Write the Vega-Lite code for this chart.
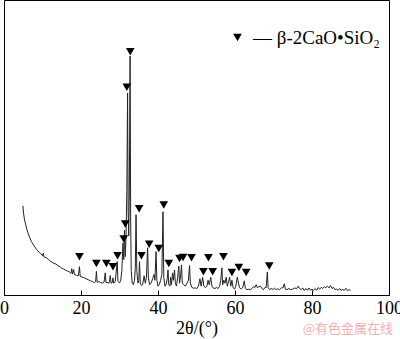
{
  "$schema": "https://vega.github.io/schema/vega-lite/v6.json",
  "autosize": {"type": "none"},
  "width": 385,
  "height": 295,
  "padding": {"left": 4, "top": 0, "right": 11, "bottom": 44},
  "background": "white",
  "config": {
    "view": {"stroke": "black", "strokeWidth": 1},
    "font": "Liberation Serif"
  },
  "title": {
    "text": "@有色金属在线",
    "orient": "bottom",
    "anchor": "end",
    "frame": "group",
    "color": "#f3b0b0",
    "font": "Noto Sans CJK SC",
    "fontSize": 13,
    "fontWeight": "normal",
    "offset": -14,
    "dx": 4
  },
  "datasets": {
    "trace": [
      {"t": 4.9, "i": 30.2}, {"t": 5.1, "i": 27.5}, {"t": 5.3, "i": 25.8}, {"t": 5.6, "i": 24}, {"t": 5.9, "i": 22.4},
      {"t": 6.3, "i": 20.8}, {"t": 6.7, "i": 19.4}, {"t": 7.1, "i": 18.2}, {"t": 7.5, "i": 17.3}, {"t": 8.0, "i": 16.3},
      {"t": 8.5, "i": 15.4}, {"t": 9.0, "i": 14.6}, {"t": 9.5, "i": 14.1}, {"t": 10.0, "i": 13.3}, {"t": 10.2, "i": 14.2},
      {"t": 10.4, "i": 12.9}, {"t": 11.0, "i": 12.6}, {"t": 11.5, "i": 12.1}, {"t": 12.0, "i": 11.5}, {"t": 12.5, "i": 11.1},
      {"t": 13.0, "i": 10.7}, {"t": 13.5, "i": 10.5}, {"t": 14.0, "i": 9.9}, {"t": 14.5, "i": 9.6}, {"t": 15.0, "i": 9.1},
      {"t": 15.5, "i": 8.8}, {"t": 16.0, "i": 8.4}, {"t": 16.5, "i": 8.1}, {"t": 17.0, "i": 7.8}, {"t": 17.4, "i": 7.3},
      {"t": 17.6, "i": 8.9}, {"t": 17.8, "i": 7.1}, {"t": 18.1, "i": 8.6}, {"t": 18.3, "i": 6.9}, {"t": 18.8, "i": 6.7},
      {"t": 19.3, "i": 6.5}, {"t": 19.6, "i": 9.6}, {"t": 19.8, "i": 6.3}, {"t": 20.5, "i": 6.0}, {"t": 21.0, "i": 5.7},
      {"t": 21.5, "i": 5.4}, {"t": 22.0, "i": 5.1}, {"t": 22.5, "i": 4.8}, {"t": 23.0, "i": 4.5}, {"t": 23.5, "i": 4.2},
      {"t": 23.8, "i": 4.5}, {"t": 24.0, "i": 8.0}, {"t": 24.2, "i": 4.3}, {"t": 24.6, "i": 4.6}, {"t": 25.0, "i": 4.3},
      {"t": 25.5, "i": 4.0}, {"t": 26.0, "i": 4.4}, {"t": 26.3, "i": 7.5}, {"t": 26.5, "i": 4.2}, {"t": 26.8, "i": 4.3},
      {"t": 27.2, "i": 4.0}, {"t": 27.4, "i": 4.5}, {"t": 27.6, "i": 6.6}, {"t": 27.8, "i": 4.0}, {"t": 28.1, "i": 4.2},
      {"t": 28.3, "i": 5.8}, {"t": 28.5, "i": 4.0}, {"t": 28.9, "i": 4.5}, {"t": 29.4, "i": 11.3}, {"t": 29.6, "i": 4.6},
      {"t": 30.0, "i": 4.1}, {"t": 30.3, "i": 4.8}, {"t": 30.6, "i": 8.0}, {"t": 30.9, "i": 17.6}, {"t": 31.1, "i": 12.0},
      {"t": 31.3, "i": 22.0}, {"t": 31.5, "i": 13.0}, {"t": 31.7, "i": 20.0}, {"t": 31.9, "i": 35.0}, {"t": 32.1, "i": 68.5},
      {"t": 32.25, "i": 28.0}, {"t": 32.4, "i": 20.0}, {"t": 32.55, "i": 35.0}, {"t": 32.75, "i": 81.0}, {"t": 32.9, "i": 25.0},
      {"t": 33.05, "i": 8.0}, {"t": 33.3, "i": 4.0}, {"t": 33.6, "i": 3.5}, {"t": 33.9, "i": 5.0}, {"t": 34.1, "i": 9.0},
      {"t": 34.3, "i": 27.2}, {"t": 34.5, "i": 8.0}, {"t": 34.8, "i": 4.0}, {"t": 35.0, "i": 5.0}, {"t": 35.2, "i": 11.3},
      {"t": 35.4, "i": 4.0}, {"t": 35.7, "i": 3.2}, {"t": 36.0, "i": 3.5}, {"t": 36.4, "i": 6.5}, {"t": 36.7, "i": 4.0},
      {"t": 37.0, "i": 6.0}, {"t": 37.3, "i": 16.0}, {"t": 37.5, "i": 6.0}, {"t": 37.8, "i": 3.5}, {"t": 38.2, "i": 4.0},
      {"t": 38.6, "i": 5.5}, {"t": 39.0, "i": 7.0}, {"t": 39.2, "i": 5.0}, {"t": 39.5, "i": 14.7}, {"t": 39.7, "i": 5.0},
      {"t": 40.0, "i": 3.0}, {"t": 40.3, "i": 3.5}, {"t": 40.7, "i": 5.0}, {"t": 41.0, "i": 7.0}, {"t": 41.3, "i": 28.2},
      {"t": 41.5, "i": 6.0}, {"t": 41.8, "i": 3.0}, {"t": 42.1, "i": 3.5}, {"t": 42.4, "i": 5.5}, {"t": 42.6, "i": 8.5},
      {"t": 42.8, "i": 3.5}, {"t": 43.1, "i": 3.0}, {"t": 43.3, "i": 6.0}, {"t": 43.5, "i": 3.5}, {"t": 43.8, "i": 7.5},
      {"t": 44.0, "i": 5.0}, {"t": 44.3, "i": 8.5}, {"t": 44.5, "i": 4.0}, {"t": 44.8, "i": 3.0}, {"t": 45.1, "i": 6.0},
      {"t": 45.4, "i": 9.8}, {"t": 45.6, "i": 4.0}, {"t": 45.9, "i": 7.0}, {"t": 46.1, "i": 10.2}, {"t": 46.3, "i": 4.0},
      {"t": 46.7, "i": 3.5}, {"t": 47.1, "i": 3.0}, {"t": 47.5, "i": 4.0}, {"t": 47.9, "i": 5.0}, {"t": 48.2, "i": 10.0},
      {"t": 48.4, "i": 4.0}, {"t": 48.8, "i": 2.6}, {"t": 49.2, "i": 2.3}, {"t": 49.7, "i": 2.4}, {"t": 50.1, "i": 2.2},
      {"t": 50.5, "i": 3.0}, {"t": 50.9, "i": 5.5}, {"t": 51.2, "i": 3.0}, {"t": 51.6, "i": 6.0}, {"t": 51.9, "i": 3.0},
      {"t": 52.3, "i": 2.5}, {"t": 52.7, "i": 3.0}, {"t": 53.0, "i": 5.0}, {"t": 53.3, "i": 3.5}, {"t": 53.7, "i": 6.0},
      {"t": 54.0, "i": 3.0}, {"t": 54.4, "i": 2.3}, {"t": 54.8, "i": 2.2}, {"t": 55.2, "i": 2.6}, {"t": 55.6, "i": 2.2},
      {"t": 56.0, "i": 3.0}, {"t": 56.3, "i": 5.0}, {"t": 56.6, "i": 9.2}, {"t": 56.8, "i": 3.5}, {"t": 57.1, "i": 5.0},
      {"t": 57.4, "i": 4.0}, {"t": 57.7, "i": 6.0}, {"t": 58.0, "i": 3.0}, {"t": 58.3, "i": 4.5}, {"t": 58.6, "i": 6.0},
      {"t": 58.9, "i": 3.0}, {"t": 59.2, "i": 5.0}, {"t": 59.5, "i": 2.5}, {"t": 59.9, "i": 2.0}, {"t": 60.2, "i": 3.0},
      {"t": 60.6, "i": 6.0}, {"t": 60.9, "i": 4.0}, {"t": 61.2, "i": 2.5}, {"t": 61.6, "i": 2.0}, {"t": 62.0, "i": 2.5},
      {"t": 62.4, "i": 4.8}, {"t": 62.7, "i": 2.2}, {"t": 63.1, "i": 1.8}, {"t": 63.6, "i": 2.0}, {"t": 64.0, "i": 1.8},
      {"t": 64.4, "i": 2.2}, {"t": 64.8, "i": 2.8}, {"t": 65.2, "i": 2.6}, {"t": 65.5, "i": 3.5}, {"t": 65.8, "i": 2.5},
      {"t": 66.2, "i": 2.8}, {"t": 66.6, "i": 3.0}, {"t": 67.0, "i": 2.2}, {"t": 67.4, "i": 1.8}, {"t": 67.8, "i": 2.6},
      {"t": 68.1, "i": 2.5}, {"t": 68.4, "i": 7.8}, {"t": 68.6, "i": 2.5}, {"t": 69.0, "i": 1.8}, {"t": 69.4, "i": 2.2},
      {"t": 69.9, "i": 1.9}, {"t": 70.3, "i": 2.3}, {"t": 70.7, "i": 1.8}, {"t": 71.1, "i": 2.1}, {"t": 71.6, "i": 1.8},
      {"t": 72.1, "i": 2.4}, {"t": 72.5, "i": 2.5}, {"t": 72.8, "i": 3.8}, {"t": 73.1, "i": 2.0}, {"t": 73.5, "i": 1.8},
      {"t": 74.0, "i": 2.2}, {"t": 74.5, "i": 1.8}, {"t": 75.0, "i": 2.0}, {"t": 75.5, "i": 2.4}, {"t": 76.0, "i": 2.1},
      {"t": 76.4, "i": 3.0}, {"t": 76.8, "i": 2.2}, {"t": 77.2, "i": 1.8}, {"t": 77.6, "i": 2.4}, {"t": 78.0, "i": 1.5},
      {"t": 78.4, "i": 2.2}, {"t": 78.8, "i": 1.6}, {"t": 79.2, "i": 2.4}, {"t": 79.6, "i": 1.6}, {"t": 80.0, "i": 2.0},
      {"t": 80.4, "i": 1.5}, {"t": 80.8, "i": 2.2}, {"t": 81.2, "i": 1.6}, {"t": 81.6, "i": 2.5}, {"t": 82.0, "i": 2.0},
      {"t": 82.4, "i": 2.6}, {"t": 82.8, "i": 2.2}, {"t": 83.2, "i": 2.8}, {"t": 83.6, "i": 2.5}, {"t": 84.0, "i": 3.0},
      {"t": 84.4, "i": 2.4}, {"t": 84.8, "i": 3.2}, {"t": 85.2, "i": 2.2}, {"t": 85.6, "i": 2.6}, {"t": 86.0, "i": 1.8},
      {"t": 86.4, "i": 2.0}, {"t": 86.8, "i": 1.6}, {"t": 87.2, "i": 2.2}, {"t": 87.6, "i": 1.5}, {"t": 88.0, "i": 1.9},
      {"t": 88.4, "i": 1.6}, {"t": 88.8, "i": 2.3}, {"t": 89.2, "i": 1.5}, {"t": 89.6, "i": 1.8}, {"t": 90.0, "i": 1.6}
    ],
    "markers": [
      {"t": 19.6, "i": 13.0, "phase": "b"}, {"t": 24.0, "i": 10.7, "phase": "b"}, {"t": 26.6, "i": 10.7, "phase": "b"},
      {"t": 28.3, "i": 9.6, "phase": "b"}, {"t": 29.5, "i": 13.3, "phase": "b"}, {"t": 31.1, "i": 19.0, "phase": "b"},
      {"t": 31.5, "i": 24.1, "phase": "b"}, {"t": 31.9, "i": 70.4, "phase": "b"}, {"t": 32.8, "i": 82.5, "phase": "b"},
      {"t": 35.1, "i": 29.2, "phase": "b"}, {"t": 35.7, "i": 13.3, "phase": "b"}, {"t": 37.7, "i": 17.2, "phase": "b"},
      {"t": 40.2, "i": 15.8, "phase": "b"}, {"t": 41.5, "i": 30.5, "phase": "b"}, {"t": 42.8, "i": 10.7, "phase": "b"},
      {"t": 45.6, "i": 12.4, "phase": "b"}, {"t": 46.5, "i": 12.7, "phase": "b"}, {"t": 48.7, "i": 12.6, "phase": "b"},
      {"t": 51.8, "i": 7.9, "phase": "b"}, {"t": 53.1, "i": 12.6, "phase": "b"}, {"t": 54.2, "i": 7.9, "phase": "b"},
      {"t": 57.0, "i": 13.0, "phase": "b"}, {"t": 59.2, "i": 7.6, "phase": "b"}, {"t": 61.0, "i": 9.3, "phase": "b"},
      {"t": 62.9, "i": 7.6, "phase": "b"}, {"t": 68.9, "i": 9.8, "phase": "b"}
    ]
  },
  "encoding": {
    "x": {
      "field": "t",
      "type": "quantitative",
      "scale": {"domain": [0, 100], "nice": false},
      "axis": {
        "title": "2θ/(°)",
        "titleFont": "Liberation Serif",
        "titleFontSize": 18,
        "titleFontWeight": "normal",
        "titleColor": "black",
        "titlePadding": 2,
        "values": [0, 20, 40, 60, 80, 100],
        "labelFont": "Liberation Serif",
        "labelFontSize": 18,
        "labelColor": "black",
        "labelFlush": false,
        "labelPadding": 9,
        "labelBaseline": "top",
        "tickSize": -5,
        "tickColor": "black",
        "domainColor": "black",
        "grid": false
      }
    },
    "y": {
      "field": "i",
      "type": "quantitative",
      "scale": {"domain": [0, 100], "nice": false},
      "axis": null
    }
  },
  "layer": [
    {
      "data": {"name": "trace"},
      "mark": {"type": "line", "color": "#222222", "strokeWidth": 1},
      "encoding": {}
    },
    {
      "data": {"name": "markers"},
      "mark": {"type": "point", "filled": true, "color": "black", "opacity": 1, "size": 75},
      "encoding": {
        "shape": {
          "field": "phase",
          "type": "nominal",
          "scale": {"range": ["triangle-down"]},
          "legend": {
            "title": null,
            "orient": "none",
            "legendX": 224,
            "legendY": 28,
            "padding": 0,
            "labelExpr": "'— β-2CaO•SiO₂'",
            "labelFont": "Liberation Serif",
            "labelFontSize": 19,
            "labelColor": "black",
            "labelOffset": 6,
            "symbolFillColor": "black",
            "symbolStrokeColor": "black",
            "symbolSize": 75,
            "symbolOpacity": 1
          }
        }
      }
    }
  ]
}
